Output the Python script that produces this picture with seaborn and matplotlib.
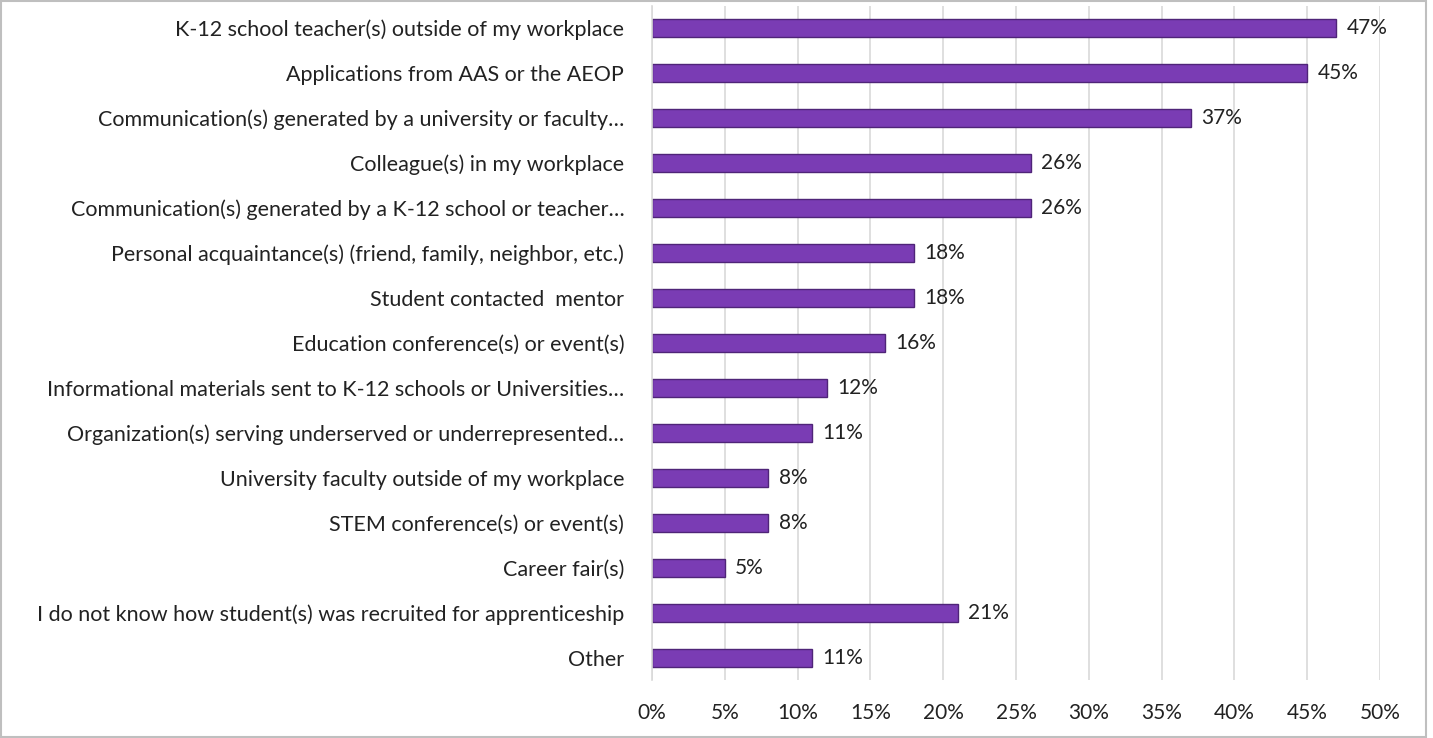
import pandas as pd
import matplotlib.pyplot as plt
import seaborn as sns
from matplotlib.ticker import PercentFormatter
from matplotlib.patches import Rectangle


categories = [
    "K-12 school teacher(s) outside of my workplace",
    "Applications from AAS or the AEOP",
    "Communication(s) generated by a university or faculty\u2026",
    "Colleague(s) in my workplace",
    "Communication(s) generated by a K-12 school or teacher\u2026",
    "Personal acquaintance(s) (friend, family, neighbor, etc.)",
    "Student contacted  mentor",
    "Education conference(s) or event(s)",
    "Informational materials sent to K-12 schools or Universities\u2026",
    "Organization(s) serving underserved or underrepresented\u2026",
    "University faculty outside of my workplace",
    "STEM conference(s) or event(s)",
    "Career fair(s)",
    "I do not know how student(s) was recruited for apprenticeship",
    "Other",
]
percent = [47, 45, 37, 26, 26, 18, 18, 16, 12, 11, 8, 8, 5, 21, 11]
xticks = [0, 5, 10, 15, 20, 25, 30, 35, 40, 45, 50]

data = pd.DataFrame({"category": categories, "percent": percent})

sns.set_style("white")
plt.rcParams["font.family"] = ["Lato", "DejaVu Sans"]

fig = plt.figure(figsize=(14.33, 7.38), dpi=100)
ax = fig.add_axes([0.455, 0.078, 0.508, 0.9145])

sns.barplot(
    data=data,
    x="percent",
    y="category",
    color="#7a3cb4",
    width=0.4,
    saturation=1,
    edgecolor="#4f2478",
    linewidth=1.0,
    ax=ax,
)

for bar, val in zip(ax.patches, percent):
    ax.text(
        bar.get_width() + 0.7,
        bar.get_y() + bar.get_height() / 2,
        f"{val}%",
        va="center",
        ha="left",
        fontsize=15,
        color="#222222",
    )

ax.set_xlim(0, 50)
ax.set_ylim(len(categories) - 0.5, -0.5)
ax.set_xticks(xticks)
ax.xaxis.set_major_formatter(PercentFormatter(decimals=0))
ax.grid(axis="x", color="#d9d9d9", linewidth=1.2)
ax.set_axisbelow(True)
ax.set_xlabel("")
ax.set_ylabel("")
for s in ["top", "right", "bottom"]:
    ax.spines[s].set_visible(False)
ax.spines["left"].set_color("#d9d9d9")
ax.spines["left"].set_linewidth(1.2)
ax.tick_params(axis="x", length=0, pad=16, labelsize=15, colors="#222222")
ax.tick_params(axis="y", length=0, pad=20, labelsize=15.5, colors="#222222")

fig.patches.append(Rectangle((0.001, 0.002), 0.994, 0.996, transform=fig.transFigure,
                             fill=False, edgecolor="#bfbfbf", linewidth=1.5))

plt.savefig("out.png", dpi=100)
